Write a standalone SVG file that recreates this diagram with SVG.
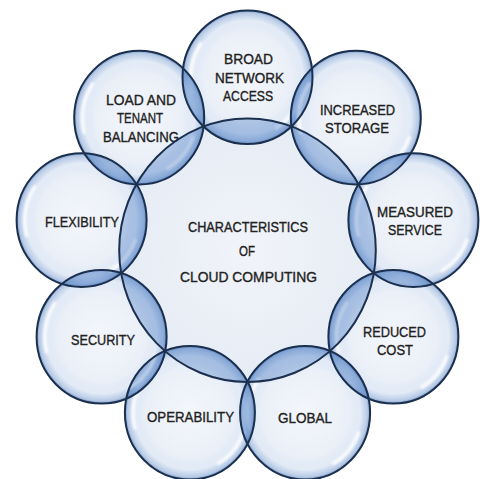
<svg xmlns="http://www.w3.org/2000/svg" xmlns:xlink="http://www.w3.org/1999/xlink" width="482" height="479" viewBox="0 0 482 479">
<style>
.bubble{fill:url(#bubbleFill)}
.outline{fill:none;stroke:#1b2f4e;stroke-width:2}
.lens{fill:#4a7cc4;fill-opacity:0.36}
.lbl{font-family:"Liberation Sans",Arial,sans-serif;font-size:14px;fill:#222222;stroke:#222222;stroke-width:0.35;text-anchor:middle}
.hl{fill:none;stroke:#ffffff;stroke-width:3.5;stroke-linecap:round;stroke-opacity:0.85}
</style>
<defs>
<radialGradient id="bubbleFill" cx="0.5" cy="0.5" r="0.5">
<stop offset="0" stop-color="#f3f6fb" stop-opacity="0.95"/>
<stop offset="0.68" stop-color="#e8eef7" stop-opacity="0.9"/>
<stop offset="0.85" stop-color="#c6d7ee" stop-opacity="0.5"/>
<stop offset="0.96" stop-color="#6e95cc" stop-opacity="0.5"/>
<stop offset="1" stop-color="#3d6aab" stop-opacity="0.7"/>
</radialGradient>
<radialGradient id="centerFill" cx="0.5" cy="0.5" r="0.5">
<stop offset="0" stop-color="#f1f4f9"/>
<stop offset="1" stop-color="#e6ecf5"/>
</radialGradient>
<clipPath id="centralClip"><ellipse cx="247.5" cy="250.2" rx="128.3" ry="131.8"/></clipPath>
<clipPath id="c0"><ellipse cx="247.5" cy="77.2" rx="65" ry="66.8"/></clipPath>
<clipPath id="c1"><ellipse cx="355.8" cy="117.6" rx="65" ry="66.8"/></clipPath>
<clipPath id="c2"><ellipse cx="413.4" cy="220.1" rx="65" ry="66.8"/></clipPath>
<clipPath id="c3"><ellipse cx="393.4" cy="336.7" rx="65" ry="66.8"/></clipPath>
<clipPath id="c4"><ellipse cx="305.1" cy="412.8" rx="65" ry="66.8"/></clipPath>
<clipPath id="c5"><ellipse cx="189.9" cy="412.8" rx="65" ry="66.8"/></clipPath>
<clipPath id="c6"><ellipse cx="101.6" cy="336.7" rx="65" ry="66.8"/></clipPath>
<clipPath id="c7"><ellipse cx="81.6" cy="220.1" rx="65" ry="66.8"/></clipPath>
<filter id="soft" x="-20%" y="-20%" width="140%" height="140%"><feGaussianBlur stdDeviation="0.8"/></filter>
<g id="hl" filter="url(#soft)">
<path class="hl" d="M -55.06 14.75 A 57 57 0 0 1 -46.69 -32.69"/>
<path class="hl" d="M 53.56 19.49 A 57 57 0 0 1 28.5 49.36"/>
</g>
</defs>

<g id="center-node">
<ellipse cx="247.5" cy="250.2" rx="128.3" ry="131.8" fill="url(#centerFill)"/>
<text class="lbl" x="248" y="232" textLength="120" lengthAdjust="spacingAndGlyphs">CHARACTERISTICS</text>
<text class="lbl" x="247" y="256" textLength="16" lengthAdjust="spacingAndGlyphs">OF</text>
<text class="lbl" x="248.5" y="282" textLength="137" lengthAdjust="spacingAndGlyphs">CLOUD COMPUTING</text>
</g>

<g id="node-broad-network-access">
<ellipse class="bubble" cx="247.5" cy="77.2" rx="65" ry="66.8"/>
<use xlink:href="#hl" href="#hl" transform="translate(247.5 77.2) scale(1 1.027)"/>
<text class="lbl" x="248.5" y="64" textLength="49" lengthAdjust="spacingAndGlyphs">BROAD</text>
<text class="lbl" x="249.5" y="83" textLength="69" lengthAdjust="spacingAndGlyphs">NETWORK</text>
<text class="lbl" x="248" y="101" textLength="50" lengthAdjust="spacingAndGlyphs">ACCESS</text>
</g>

<g id="node-increased-storage">
<ellipse class="bubble" cx="355.8" cy="117.6" rx="65" ry="66.8"/>
<use xlink:href="#hl" href="#hl" transform="translate(355.8 117.6) scale(1 1.027)"/>
<text class="lbl" x="357.5" y="115" textLength="75" lengthAdjust="spacingAndGlyphs">INCREASED</text>
<text class="lbl" x="357" y="133" textLength="64" lengthAdjust="spacingAndGlyphs">STORAGE</text>
</g>

<g id="node-measured-service">
<ellipse class="bubble" cx="413.4" cy="220.1" rx="65" ry="66.8"/>
<use xlink:href="#hl" href="#hl" transform="translate(413.4 220.1) scale(1 1.027)"/>
<text class="lbl" x="415" y="217" textLength="76" lengthAdjust="spacingAndGlyphs">MEASURED</text>
<text class="lbl" x="415" y="235" textLength="54" lengthAdjust="spacingAndGlyphs">SERVICE</text>
</g>

<g id="node-reduced-cost">
<ellipse class="bubble" cx="393.4" cy="336.7" rx="65" ry="66.8"/>
<use xlink:href="#hl" href="#hl" transform="translate(393.4 336.7) scale(1 1.027)"/>
<text class="lbl" x="394.5" y="337" textLength="63" lengthAdjust="spacingAndGlyphs">REDUCED</text>
<text class="lbl" x="395" y="354.5" textLength="36" lengthAdjust="spacingAndGlyphs">COST</text>
</g>

<g id="node-global">
<ellipse class="bubble" cx="305.1" cy="412.8" rx="65" ry="66.8"/>
<use xlink:href="#hl" href="#hl" transform="translate(305.1 412.8) scale(1 1.027)"/>
<text class="lbl" x="305" y="423" textLength="54" lengthAdjust="spacingAndGlyphs">GLOBAL</text>
</g>

<g id="node-operability">
<ellipse class="bubble" cx="189.9" cy="412.8" rx="65" ry="66.8"/>
<use xlink:href="#hl" href="#hl" transform="translate(189.9 412.8) scale(1 1.027)"/>
<text class="lbl" x="190.5" y="422" textLength="87" lengthAdjust="spacingAndGlyphs">OPERABILITY</text>
</g>

<g id="node-security">
<ellipse class="bubble" cx="101.6" cy="336.7" rx="65" ry="66.8"/>
<use xlink:href="#hl" href="#hl" transform="translate(101.6 336.7) scale(1 1.027)"/>
<text class="lbl" x="103" y="345" textLength="64" lengthAdjust="spacingAndGlyphs">SECURITY</text>
</g>

<g id="node-flexibility">
<ellipse class="bubble" cx="81.6" cy="220.1" rx="65" ry="66.8"/>
<use xlink:href="#hl" href="#hl" transform="translate(81.6 220.1) scale(1 1.027)"/>
<text class="lbl" x="82" y="227" textLength="74" lengthAdjust="spacingAndGlyphs">FLEXIBILITY</text>
</g>

<g id="node-load-and-tenant-balancing">
<ellipse class="bubble" cx="139.2" cy="117.6" rx="65" ry="66.8"/>
<use xlink:href="#hl" href="#hl" transform="translate(139.2 117.6) scale(1 1.027)"/>
<text class="lbl" x="141" y="105" textLength="70" lengthAdjust="spacingAndGlyphs">LOAD AND</text>
<text class="lbl" x="140" y="123" textLength="46" lengthAdjust="spacingAndGlyphs">TENANT</text>
<text class="lbl" x="141" y="142" textLength="76" lengthAdjust="spacingAndGlyphs">BALANCING</text>
</g>

<g id="overlaps">
<g clip-path="url(#centralClip)">
<ellipse class="lens" cx="247.5" cy="77.2" rx="65" ry="66.8"/>
<ellipse class="lens" cx="355.8" cy="117.6" rx="65" ry="66.8"/>
<ellipse class="lens" cx="413.4" cy="220.1" rx="65" ry="66.8"/>
<ellipse class="lens" cx="393.4" cy="336.7" rx="65" ry="66.8"/>
<ellipse class="lens" cx="305.1" cy="412.8" rx="65" ry="66.8"/>
<ellipse class="lens" cx="189.9" cy="412.8" rx="65" ry="66.8"/>
<ellipse class="lens" cx="101.6" cy="336.7" rx="65" ry="66.8"/>
<ellipse class="lens" cx="81.6" cy="220.1" rx="65" ry="66.8"/>
<ellipse class="lens" cx="139.2" cy="117.6" rx="65" ry="66.8"/>
</g>
<ellipse class="lens" clip-path="url(#c0)" cx="355.8" cy="117.6" rx="65" ry="66.8"/>
<ellipse class="lens" clip-path="url(#c1)" cx="413.4" cy="220.1" rx="65" ry="66.8"/>
<ellipse class="lens" clip-path="url(#c2)" cx="393.4" cy="336.7" rx="65" ry="66.8"/>
<ellipse class="lens" clip-path="url(#c3)" cx="305.1" cy="412.8" rx="65" ry="66.8"/>
<ellipse class="lens" clip-path="url(#c4)" cx="189.9" cy="412.8" rx="65" ry="66.8"/>
<ellipse class="lens" clip-path="url(#c5)" cx="101.6" cy="336.7" rx="65" ry="66.8"/>
<ellipse class="lens" clip-path="url(#c6)" cx="81.6" cy="220.1" rx="65" ry="66.8"/>
<ellipse class="lens" clip-path="url(#c7)" cx="139.2" cy="117.6" rx="65" ry="66.8"/>
<ellipse class="lens" clip-path="url(#c0)" cx="139.2" cy="117.6" rx="65" ry="66.8"/>
</g>

<g id="outlines">
<ellipse class="outline" cx="247.5" cy="250.2" rx="128.3" ry="131.8" stroke-width="1.8"/>
<ellipse class="outline" cx="247.5" cy="77.2" rx="65" ry="66.8"/>
<ellipse class="outline" cx="355.8" cy="117.6" rx="65" ry="66.8"/>
<ellipse class="outline" cx="413.4" cy="220.1" rx="65" ry="66.8"/>
<ellipse class="outline" cx="393.4" cy="336.7" rx="65" ry="66.8"/>
<ellipse class="outline" cx="305.1" cy="412.8" rx="65" ry="66.8"/>
<ellipse class="outline" cx="189.9" cy="412.8" rx="65" ry="66.8"/>
<ellipse class="outline" cx="101.6" cy="336.7" rx="65" ry="66.8"/>
<ellipse class="outline" cx="81.6" cy="220.1" rx="65" ry="66.8"/>
<ellipse class="outline" cx="139.2" cy="117.6" rx="65" ry="66.8"/>
</g>
</svg>
